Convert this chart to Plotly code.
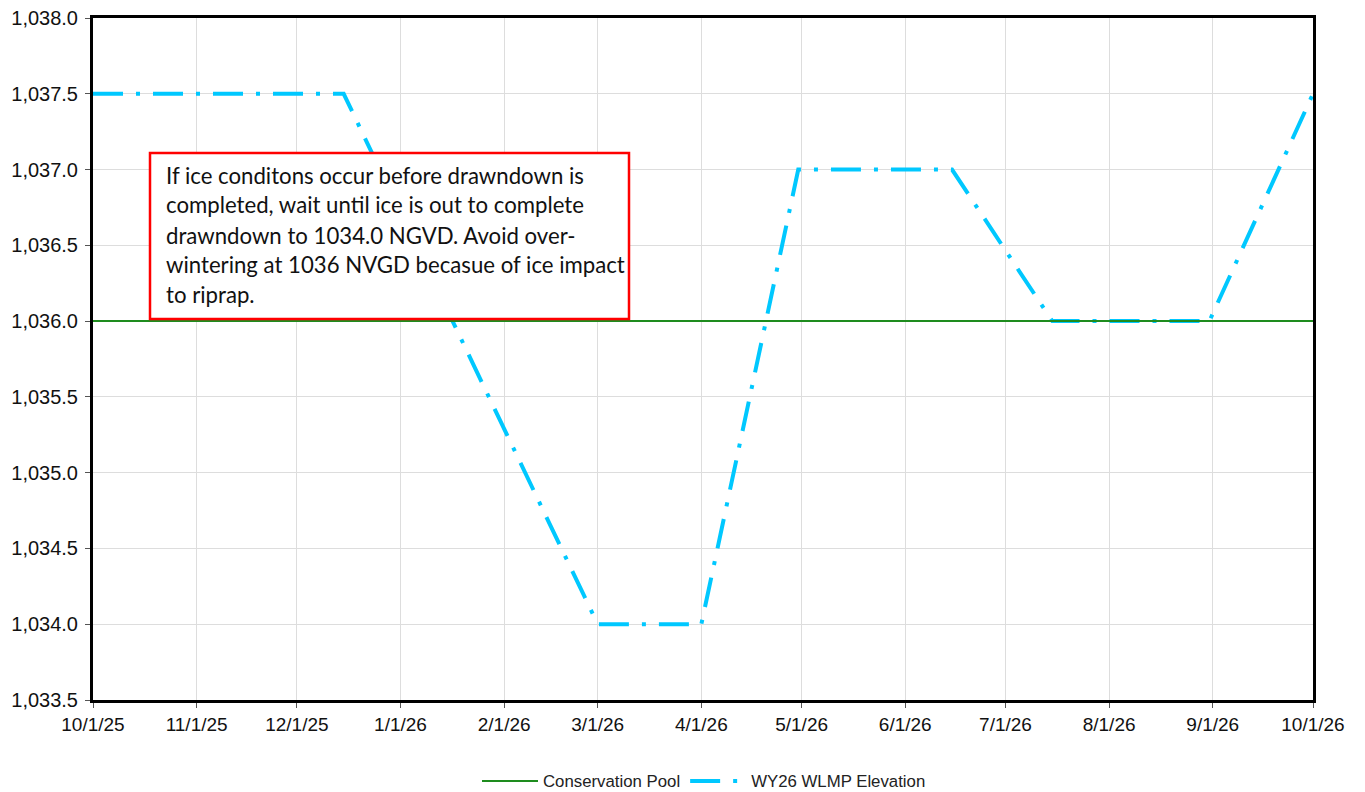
import plotly.graph_objects as go

# ---- data ----
wlmp_dates = ["2025-10-01", "2025-12-15", "2026-03-01", "2026-04-01", "2026-04-30",
              "2026-06-15", "2026-07-15", "2026-08-31", "2026-10-01"]
wlmp_elev = [1037.5, 1037.5, 1034.0, 1034.0, 1037.0, 1037.0, 1036.0, 1036.0, 1037.5]

pool_dates = ["2025-10-01", "2026-10-01"]
pool_elev = [1036.0, 1036.0]

note_lines = [
    "If ice conditons occur before drawndown is",
    "completed, wait until ice is out to complete",
    "drawndown to 1034.0 NGVD. Avoid over-",
    "wintering at 1036 NVGD becasue of ice impact",
    "to riprap.",
]

# ---- layout constants (pixels in a 1365x792 canvas) ----
W, H = 1365, 792
L, R, T, B = 93, 1313, 18, 700


def px(x):
    return (x - L) / (R - L)


def py(y):
    return (B - y) / (B - T)


fig = go.Figure()
fig.add_trace(go.Scatter(
    x=wlmp_dates, y=wlmp_elev, mode="lines", name="WY26 WLMP Elevation",
    line=dict(color="#00C8FF", width=4, dash="30px,13px,4px,13px"),
    legendrank=2,
))
fig.add_trace(go.Scatter(
    x=pool_dates, y=pool_elev, mode="lines", name="Conservation Pool",
    line=dict(color="#1E8C1E", width=2),
    legendrank=1,
))

fig.add_shape(type="rect", xref="paper", yref="paper",
              x0=px(150), x1=px(629), y0=py(319), y1=py(153),
              line=dict(color="#FF0000", width=2.5), fillcolor="white", layer="above")
line_y = [175, 205, 235, 264, 294]
for txt, yy in zip(note_lines, line_y):
    fig.add_annotation(xref="paper", yref="paper", x=px(164), y=py(yy),
                       xanchor="left", yanchor="middle", showarrow=False, text=txt,
                       font=dict(family="Lato", size=22.2, color="#111111"), align="left")

axis_font = dict(family="Liberation Sans, Arial", color="#111111")
fig.update_xaxes(
    type="date", range=["2025-10-01", "2026-10-01"],
    tick0="2025-10-01", dtick="M1", tickformat="%-m/%-d/%y",
    showgrid=True, gridcolor="#DDDDDD", gridwidth=1,
    showline=True, linecolor="black", linewidth=3, mirror=True,
    ticks="outside", ticklen=5, tickcolor="#555555",
    tickfont=dict(size=19, **axis_font),
    zeroline=False, automargin=False,
)
fig.update_yaxes(
    range=[1033.5, 1038.0], dtick=0.5, tickformat=",.1f",
    showgrid=True, gridcolor="#DDDDDD", gridwidth=1,
    showline=True, linecolor="black", linewidth=3, mirror=True,
    ticks="outside", ticklen=5, tickcolor="#555555",
    tickfont=dict(size=20, **axis_font), ticklabelstandoff=3,
    zeroline=False, automargin=False,
)
fig.update_layout(
    width=W, height=H,
    margin=dict(l=L, r=W - R, t=T, b=H - B, autoexpand=False),
    paper_bgcolor="white", plot_bgcolor="white",
    showlegend=True,
    legend=dict(orientation="h", x=px(704), xanchor="center", y=py(781), yanchor="middle",
                font=dict(family="Liberation Sans, Arial", size=16.8, color="#222222"),
                itemwidth=56, traceorder="normal"),
)

fig.write_html("out.html", config={"displayModeBar": False},
               post_script="document.body.style.margin='0';")
